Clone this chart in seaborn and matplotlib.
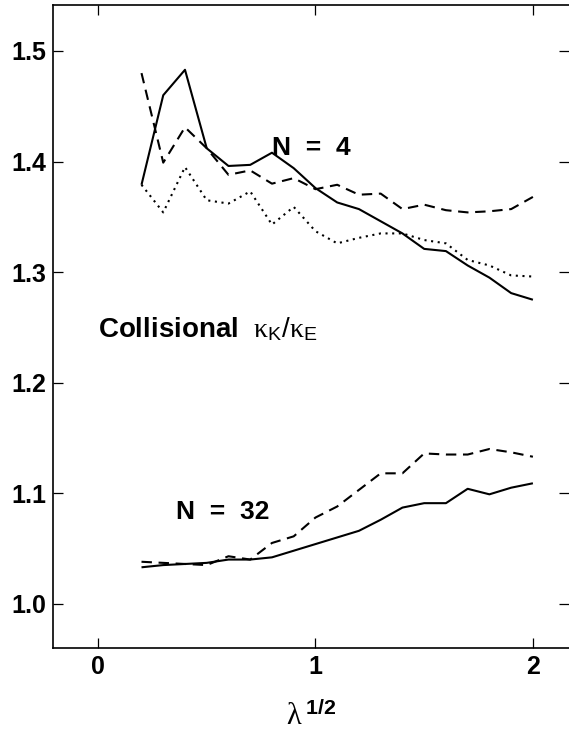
import numpy as np
import pandas as pd
import matplotlib
matplotlib.use("Agg")
import matplotlib.pyplot as plt
import seaborn as sns

x = [0.2, 0.3, 0.4, 0.5, 0.6, 0.7, 0.8, 0.9, 1.0, 1.1, 1.2, 1.3, 1.4, 1.5, 1.6, 1.7, 1.8, 1.9, 2.0]

n4_solid = [1.379, 1.460, 1.483, 1.412, 1.396, 1.397, 1.408, 1.394, 1.376, 1.363, 1.357,
            1.346, 1.335, 1.321, 1.319, 1.306, 1.295, 1.281, 1.275]
n4_dashed = [1.480, 1.399, 1.431, 1.412, 1.388, 1.392, 1.380, 1.385, 1.375, 1.379, 1.370,
             1.371, 1.357, 1.361, 1.356, 1.354, 1.355, 1.357, 1.368]
n4_dotted = [1.379, 1.354, 1.395, 1.365, 1.362, 1.373, 1.343, 1.359, 1.337, 1.326, 1.331,
             1.335, 1.335, 1.329, 1.326, 1.311, 1.306, 1.297, 1.296]
n32_solid = [1.033, 1.035, 1.036, 1.037, 1.040, 1.040, 1.042, 1.048, 1.054, 1.060, 1.066,
             1.076, 1.087, 1.091, 1.091, 1.104, 1.099, 1.105, 1.109]
n32_dashed = [1.038, 1.037, 1.036, 1.035, 1.043, 1.040, 1.055, 1.061, 1.078, 1.088, 1.103,
              1.118, 1.118, 1.136, 1.135, 1.135, 1.140, 1.137, 1.133]

yticks = [1.0, 1.1, 1.2, 1.3, 1.4, 1.5]
ytick_labels = ["1.0", "1.1", "1.2", "1.3", "1.4", "1.5"]
xticks = [0, 1, 2]
xtick_labels = ["0", "1", "2"]

sns.set_style("ticks")
plt.rcParams['font.family'] = ['Liberation Sans', 'DejaVu Sans']
plt.rcParams['mathtext.fontset'] = 'custom'
plt.rcParams['mathtext.rm'] = 'Liberation Sans'
plt.rcParams['mathtext.bf'] = 'Liberation Sans:bold'
plt.rcParams['mathtext.it'] = 'Liberation Serif'
for k in ['text.color', 'axes.labelcolor', 'xtick.color', 'ytick.color', 'axes.edgecolor']:
    plt.rcParams[k] = 'black'

fig = plt.figure(figsize=(5.69, 7.31), dpi=100)
W, H = 569, 731
ax = fig.add_axes([53 / W, (H - 648) / H, 1 - 53 / W, (648 - 5) / H])

series = [
    (n4_solid, (0, ())),
    (n4_dashed, (0, (5, 3.2))),
    (n4_dotted, (0, (1, 2.2))),
    (n32_solid, (0, ())),
    (n32_dashed, (0, (5, 3.2))),
]
for vals, ls in series:
    df = pd.DataFrame({"x": x, "y": vals})
    sns.lineplot(data=df, x="x", y="y", ax=ax, color="black", linewidth=1.5,
                 linestyle=ls, errorbar=None)

ax.set_xlim(-0.207, 2.166)
ax.set_ylim(0.960, 1.5416)
ax.set_xticks(xticks)
ax.set_xticklabels(xtick_labels)
ax.set_yticks(yticks)
ax.set_yticklabels(ytick_labels)
for lab in ax.get_xticklabels() + ax.get_yticklabels():
    lab.set_fontweight("bold")
    lab.set_fontsize(18)
ax.tick_params(axis="both", direction="in", length=7, width=0.9, top=True, right=True,
               colors="black")
ax.tick_params(axis="y", pad=5)
ax.tick_params(axis="x", pad=5)
ax.spines["right"].set_visible(False)
for s in ["left", "bottom", "top"]:
    ax.spines[s].set_linewidth(1.2)
    ax.spines[s].set_color("black")

ax.set_xlabel(r"$\lambda^{\,\mathbf{1/2}}$", fontsize=22, labelpad=16)
ax.set_ylabel("")

ax.text(0.98, 1.412, "N  =  4", fontsize=19, fontweight="bold", ha="center", va="center")
ax.text(0.575, 1.083, "N  =  32", fontsize=19, fontweight="bold", ha="center", va="center")
ax.text(0.0, 1.248, r"Collisional  $\kappa_{\mathrm{K}}/\kappa_{\mathrm{E}}$", fontsize=20,
        fontweight="bold", ha="left", va="center")

fig.savefig("out.png", dpi=100)
